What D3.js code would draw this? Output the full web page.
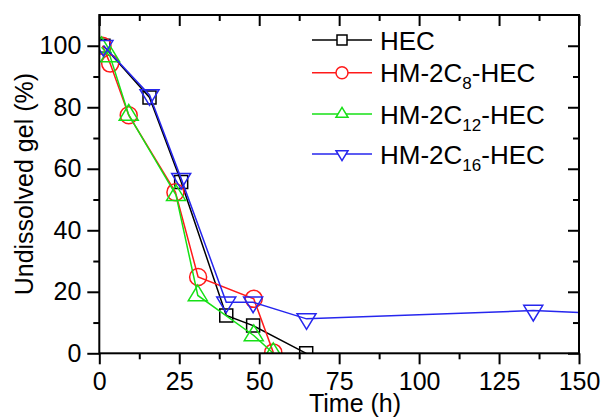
<!DOCTYPE html>
<html>
<head>
<meta charset="utf-8">
<script src="https://cdn.jsdelivr.net/npm/d3@7"></script>
<style>
  body { margin: 0; background: #fff; }
  svg { font-family: "Liberation Sans", Arial, sans-serif; }
</style>
</head>
<body>
<div id="chart"></div>
<script>
// data
var hecTime = [1.3, 15.7, 25.6, 39.7, 48.1, 64.7];
var hecVal = [100, 83.2, 55.7, 12.3, 9, 0];
var c8Time = [1, 3.4, 9.2, 23.8, 30.9, 48.3, 54.4];
var c8Val = [100, 94.2, 77.4, 52.4, 24.8, 17.7, 0.3];
var c12Time = [0.7, 3.4, 9.2, 24, 30.8, 48.3, 54.4];
var c12Val = [99.5, 96.5, 77.5, 51.4, 18.8, 5.8, 0];
var c16Time = [1.3, 15.7, 25.6, 39.7, 48.1, 64.8, 135.7, 165];
var c16Val = [100, 84, 56.8, 16.6, 16.6, 11.2, 13.9, 12.6];

var xTicks = [0, 25, 50, 75, 100, 125, 150];
var yTicks = [0, 20, 40, 60, 80, 100];

var series = [
  {name: "HEC", sub: "", tail: "", t: hecTime, v: hecVal, color: "#000000", shape: "square"},
  {name: "HM-2C", sub: "8", tail: "-HEC", t: c8Time, v: c8Val, color: "#ff1a1a", shape: "circle"},
  {name: "HM-2C", sub: "12", tail: "-HEC", t: c12Time, v: c12Val, color: "#16e016", shape: "up"},
  {name: "HM-2C", sub: "16", tail: "-HEC", t: c16Time, v: c16Val, color: "#2626ee", shape: "down"}
];

var width = 602, height = 418;
var margin = {top: 15, right: 23, bottom: 64.7, left: 99.3};
var plotW = width - margin.left - margin.right;
var plotH = height - margin.top - margin.bottom;

var svg = d3.select("#chart").append("svg")
  .attr("width", width)
  .attr("height", height);

var x = d3.scaleLinear().domain([0, 150]).range([0, plotW]);
var y = d3.scaleLinear().domain([0, 110]).range([plotH, 0]);

var g = svg.append("g").attr("transform", "translate(" + margin.left + "," + margin.top + ")");

// marker path, centred on the point
function markerPath(shape, s) {
  if (shape == "square") {
    return "M" + (-s) + "," + (-s) + "H" + s + "V" + s + "H" + (-s) + "Z";
  }
  if (shape == "circle") {
    return "M" + s + ",0A" + s + "," + s + " 0 1,1 " + (-s) + ",0A" + s + "," + s + " 0 1,1 " + s + ",0Z";
  }
  var h = s * 1.65;
  if (shape == "up") {
    return "M0," + (-h * 2 / 3) + "L" + s + "," + (h / 3) + "L" + (-s) + "," + (h / 3) + "Z";
  }
  return "M0," + (h * 2 / 3) + "L" + s + "," + (-h / 3) + "L" + (-s) + "," + (-h / 3) + "Z";
}
var markerSize = {square: 6.5, circle: 8.5, up: 9.5, down: 9.5};

svg.append("clipPath").attr("id", "plotclip")
  .append("rect").attr("width", plotW).attr("height", plotH);

var plot = g.append("g").attr("clip-path", "url(#plotclip)");

var line = d3.line()
  .x(function(d) { return x(d[0]); })
  .y(function(d) { return y(d[1]); });

series.forEach(function(s) {
  var pts = s.t.map(function(t, i) { return [t, s.v[i]]; });
  plot.append("path")
    .datum(pts)
    .attr("d", line)
    .attr("fill", "none")
    .attr("stroke", s.color)
    .attr("stroke-width", 1.5);
  plot.selectAll(null)
    .data(pts)
    .enter().append("path")
    .attr("transform", function(d) { return "translate(" + x(d[0]) + "," + y(d[1]) + ")"; })
    .attr("d", markerPath(s.shape, markerSize[s.shape]))
    .attr("fill", "none")
    .attr("stroke", s.color)
    .attr("stroke-width", 1.5);
});

// axes
var xMinor = d3.range(12.5, 150, 25);
var yMinor = d3.range(10, 110, 20);

function styleAxis(sel) {
  sel.select(".domain").remove();
  sel.selectAll(".tick line").attr("stroke", "#000").attr("stroke-width", 2);
  sel.selectAll(".tick text").attr("font-size", 25).attr("fill", "#000")
    .attr("font-family", "Liberation Sans, Arial, sans-serif");
}

// bottom: ticks outward, with labels
g.append("g").attr("transform", "translate(0," + plotH + ")")
  .call(d3.axisBottom(x).tickValues(xTicks).tickSize(11).tickPadding(8).tickFormat(d3.format("d")))
  .call(styleAxis);
g.append("g").attr("transform", "translate(0," + plotH + ")")
  .call(d3.axisBottom(x).tickValues(xMinor).tickSize(6).tickFormat(""))
  .call(styleAxis);

// top: ticks inward
g.append("g")
  .call(d3.axisBottom(x).tickValues(xTicks).tickSize(11).tickFormat(""))
  .call(styleAxis);
g.append("g")
  .call(d3.axisBottom(x).tickValues(xMinor).tickSize(6).tickFormat(""))
  .call(styleAxis);

// left: ticks outward, with labels
g.append("g")
  .call(d3.axisLeft(y).tickValues(yTicks).tickSize(12).tickPadding(6).tickFormat(d3.format("d")))
  .call(styleAxis);
g.append("g")
  .call(d3.axisLeft(y).tickValues(yMinor).tickSize(6).tickFormat(""))
  .call(styleAxis);

// right: ticks inward
g.append("g").attr("transform", "translate(" + plotW + ",0)")
  .call(d3.axisLeft(y).tickValues(yTicks).tickSize(11).tickFormat(""))
  .call(styleAxis);
g.append("g").attr("transform", "translate(" + plotW + ",0)")
  .call(d3.axisLeft(y).tickValues(yMinor).tickSize(6).tickFormat(""))
  .call(styleAxis);

// frame
g.append("rect")
  .attr("width", plotW).attr("height", plotH)
  .attr("fill", "none").attr("stroke", "#000").attr("stroke-width", 2);

// axis titles
svg.append("text")
  .attr("x", 355)
  .attr("y", 412)
  .attr("text-anchor", "middle")
  .attr("font-size", 25)
  .text("Time (h)");

svg.append("text")
  .attr("transform", "translate(33," + (margin.top + plotH / 2) + ") rotate(-90)")
  .attr("text-anchor", "middle")
  .attr("font-size", 25)
  .text("Undissolved gel (%)");

// legend
var legendY = [40, 72.7, 114, 154];
var legend = svg.append("g");
series.forEach(function(s, i) {
  var row = legend.append("g").attr("transform", "translate(0," + legendY[i] + ")");
  row.append("line")
    .attr("x1", 312).attr("x2", 372)
    .attr("stroke", s.color).attr("stroke-width", 1.5);
  row.append("path")
    .attr("transform", "translate(342,0)")
    .attr("d", markerPath(s.shape, s.shape == "square" ? 5 : 6))
    .attr("fill", "#fff")
    .attr("stroke", s.color)
    .attr("stroke-width", 1.5);
  var txt = row.append("text")
    .attr("x", 380).attr("y", 9.5)
    .attr("font-size", 26)
    .text(s.name);
  if (s.sub) {
    txt.append("tspan").attr("font-size", 17).attr("dy", 7).text(s.sub);
    txt.append("tspan").attr("dy", -7).text(s.tail);
  }
});
</script>
</body>
</html>
